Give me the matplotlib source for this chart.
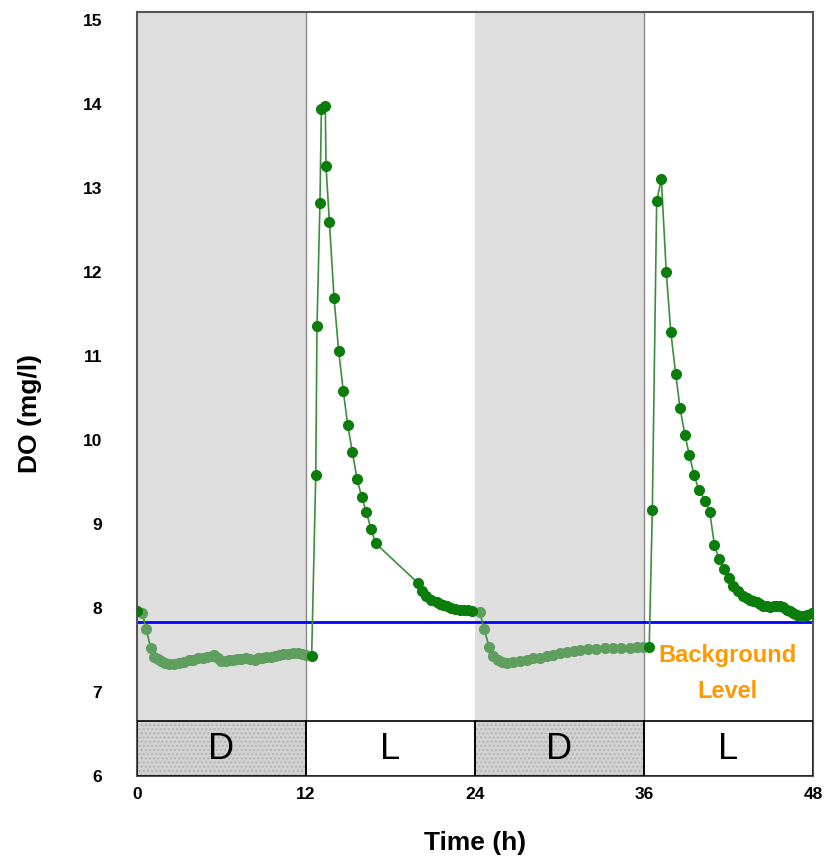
import matplotlib
matplotlib.use("Agg")
import matplotlib.pyplot as plt
from matplotlib.patches import Rectangle

plt.rcParams['font.family'] = ['Liberation Sans', 'DejaVu Sans']

# night 1 (dark period, measured values)
t_night1 = [0.0, 0.37, 0.65, 0.96, 1.24, 1.5, 1.72, 2.0, 2.3, 2.6, 3.0, 3.3, 3.7, 4.0, 4.3,
            4.68, 5.0, 5.3, 5.5, 5.75, 5.98, 6.3, 6.55, 6.8, 7.1, 7.4, 7.76, 8.05, 8.35,
            8.6, 8.9, 9.18, 9.5, 9.8, 10.1, 10.4, 10.7, 11.08, 11.4, 11.7, 12.0]
do_night1 = [7.97, 7.94, 7.75, 7.53, 7.42, 7.39, 7.37, 7.35, 7.34, 7.34, 7.35, 7.36, 7.38, 7.38,
             7.40, 7.41, 7.42, 7.43, 7.44, 7.40, 7.37, 7.37, 7.38, 7.38, 7.39, 7.39, 7.40,
             7.39, 7.38, 7.40, 7.41, 7.42, 7.42, 7.43, 7.44, 7.45, 7.45, 7.46, 7.46, 7.45, 7.44]

t_day1 = [12.4, 12.69, 12.78, 12.99, 13.09, 13.37, 13.42, 13.66, 13.99, 14.32, 14.65, 14.96,
          15.29, 15.62, 15.96, 16.29, 16.62, 16.95, 19.94, 20.27, 20.55, 20.9, 21.27, 21.5,
          21.74, 22.0, 22.33, 22.6, 22.92, 23.2, 23.5, 23.8]
do_day1 = [7.43, 9.58, 11.36, 12.83, 13.95, 13.98, 13.26, 12.6, 11.69, 11.06, 10.58, 10.18,
           9.86, 9.54, 9.32, 9.14, 8.94, 8.77, 8.30, 8.20, 8.14, 8.10, 8.07, 8.05,
           8.04, 8.02, 8.00, 7.99, 7.98, 7.98, 7.98, 7.97]

t_night2 = [24.34, 24.65, 25.0, 25.3, 25.6, 25.9, 26.3, 26.7, 27.2, 27.66, 28.1, 28.6, 29.1,
            29.55, 30.0, 30.5, 31.0, 31.45, 32.0, 32.6, 33.2, 33.8, 34.4, 35.0, 35.5, 35.95]
do_night2 = [7.95, 7.75, 7.54, 7.43, 7.38, 7.36, 7.35, 7.36, 7.37, 7.38, 7.40, 7.41, 7.43,
             7.44, 7.46, 7.48, 7.49, 7.50, 7.51, 7.51, 7.52, 7.52, 7.53, 7.53, 7.54, 7.54]

t_day2 = [36.37, 36.59, 36.9, 37.23, 37.58, 37.9, 38.25, 38.56, 38.91, 39.22, 39.55, 39.89,
          40.36, 40.67, 41.0, 41.33, 41.66, 42.0, 42.35, 42.7, 43.06, 43.3, 43.53, 43.75,
          44.0, 44.25, 44.48, 44.7, 44.95, 45.2, 45.43, 45.65, 45.9, 46.15, 46.37, 46.6,
          46.85, 47.1, 47.3, 47.6, 47.9]
do_day2 = [7.54, 9.17, 12.85, 13.11, 12.0, 11.29, 10.79, 10.38, 10.06, 9.82, 9.59, 9.41,
           9.28, 9.14, 8.75, 8.58, 8.46, 8.36, 8.26, 8.20, 8.14, 8.12, 8.10, 8.08,
           8.07, 8.05, 8.03, 8.02, 8.01, 8.02, 8.03, 8.02, 8.01, 7.98, 7.96, 7.94,
           7.92, 7.91, 7.91, 7.92, 7.94]

background = 7.84
phases = [(0, 12, "D"), (12, 24, "L"), (24, 36, "D"), (36, 48, "L")]
x_ticks = [0, 12, 24, 36, 48]
y_ticks = [6, 7, 8, 9, 10, 11, 12, 13, 14, 15]

fig = plt.figure(figsize=(8.33, 8.57), dpi=100)
ax = fig.add_axes([0.1645, 0.0945, 0.8115, 0.8915])
ax.set_xlim(0, 48)
ax.set_ylim(6, 15.1)

dark = "#0a7d0a"
light = "#5e9e5e"

for x0, x1, lab in phases:
    if lab == "D":
        ax.axvspan(x0, x1, color="#dedede", zorder=0, lw=0)
        ax.axvline(x1, color="#8a8a8a", lw=1, zorder=1)
        # stippled fill
        ax.add_patch(Rectangle((x0, 6), x1 - x0, 0.65, facecolor="#d2d2d2",
                               edgecolor="#b2b2b2", hatch="....", lw=0, zorder=3))
    else:
        ax.add_patch(Rectangle((x0, 6), x1 - x0, 0.65, facecolor="white", lw=0, zorder=3))
    ax.add_patch(Rectangle((x0, 6), x1 - x0, 0.65, fill=False, edgecolor="black",
                           lw=1.2, zorder=3.5))
    ax.text((x0 + x1) / 2, 6.32, lab, ha="center", va="center", fontsize=26, zorder=4)

ax.axhline(background, color="#0000ff", lw=2, zorder=2)

t_all = t_night1 + t_day1 + t_night2 + t_day2
do_all = do_night1 + do_day1 + do_night2 + do_day2
ax.plot(t_all, do_all, color="#3b8f3b", lw=1.2, zorder=5)

ms = 7
ax.plot(t_night1[1:], do_night1[1:], "o", color=light, ms=ms, mec=light, zorder=6)
ax.plot(t_night2, do_night2, "o", color=light, ms=ms, mec=light, zorder=6)
ax.plot(t_night1[:1] + t_day1, do_night1[:1] + do_day1, "o", color=dark, ms=ms, mec=dark, zorder=6)
ax.plot(t_day2, do_day2, "o", color=dark, ms=ms, mec=dark, zorder=6)

ax.text(41.9, 7.44, "Background", color="#ff9900", fontsize=17, fontweight="bold",
        ha="center", va="center", zorder=7)
ax.text(41.9, 7.01, "Level", color="#ff9900", fontsize=17, fontweight="bold",
        ha="center", va="center", zorder=7)

ax.set_xticks(x_ticks)
ax.set_yticks(y_ticks)
ax.tick_params(axis="y", length=0, pad=25, labelsize=12.5)
ax.tick_params(axis="x", length=0, pad=8, labelsize=12.5)
for lbl in ax.get_xticklabels() + ax.get_yticklabels():
    lbl.set_fontweight("bold")

for s in ax.spines.values():
    s.set_color("#555555")
    s.set_linewidth(1.5)

ax.set_xlabel("Time (h)", fontsize=19, fontweight="bold")
ax.set_ylabel("DO (mg/l)", fontsize=19, fontweight="bold")
ax.xaxis.set_label_coords(0.5, -0.072)
ax.yaxis.set_label_coords(-0.1405, 0.474)

fig.savefig("out.png", dpi=100)
